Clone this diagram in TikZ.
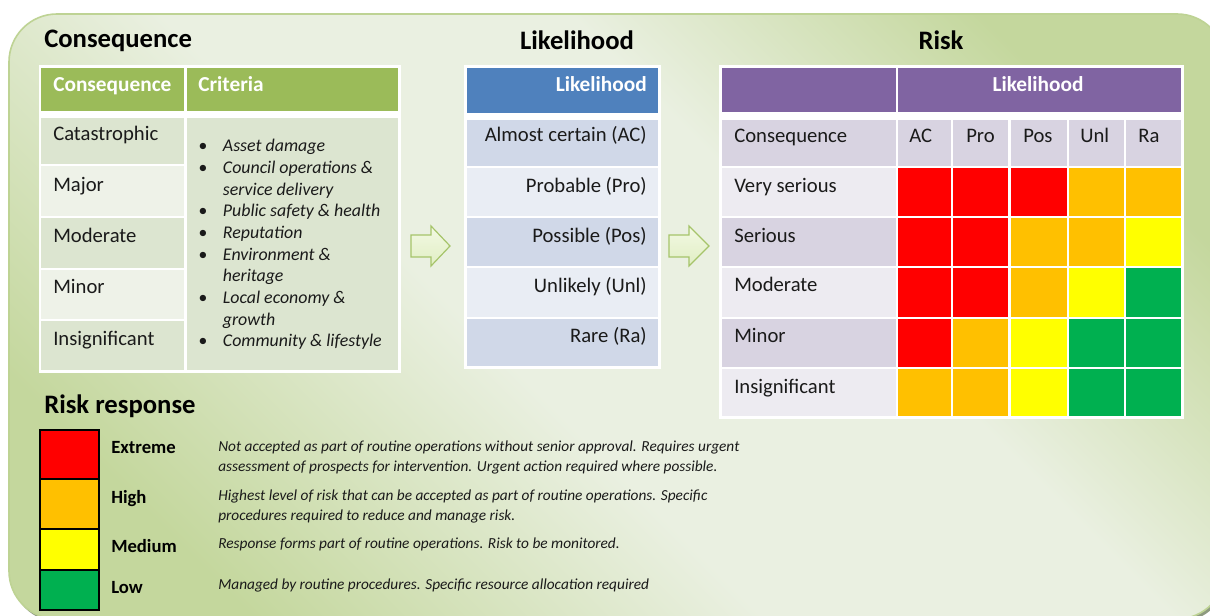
\documentclass[tikz,border=0pt]{standalone}
\usepackage{fontspec}
\setmainfont{Carlito}
\usetikzlibrary{shapes.arrows}

% panel and table colours
\definecolor{bgdark}{HTML}{C4D79D}
\definecolor{bglight}{HTML}{EAF0E1}
\definecolor{bgedge}{HTML}{BED394}
\definecolor{bgshadow}{HTML}{8E9A80}
\definecolor{cgreen}{HTML}{9BBB59}
\definecolor{cgdark}{HTML}{DCE5D0}
\definecolor{cglight}{HTML}{EEF2E8}
\definecolor{lblue}{HTML}{4F81BD}
\definecolor{lbdark}{HTML}{D0D8E8}
\definecolor{lblight}{HTML}{E9EDF4}
\definecolor{rpurple}{HTML}{8064A2}
\definecolor{rpdark}{HTML}{D8D3E1}
\definecolor{rplight}{HTML}{EDEBF1}
\definecolor{rred}{HTML}{FF0000}
\definecolor{rorange}{HTML}{FFC000}
\definecolor{ryellow}{HTML}{FFFF00}
\definecolor{rgreen}{HTML}{00B050}
\definecolor{arrowedge}{HTML}{A6C46A}
\definecolor{arrowtop}{HTML}{F3F9E4}
\definecolor{arrowbot}{HTML}{E0EEC3}
\definecolor{ink}{HTML}{1A1A1A}

\pgfdeclareverticalshading{panelshade}{100bp}{%
  color(0bp)=(bgdark); color(24bp)=(bgdark); color(44bp)=(bglight);
  color(60bp)=(bglight); color(76bp)=(bgdark); color(100bp)=(bgdark)}

\tikzset{
  txt/.style={inner sep=0pt, text=ink},
  title/.style={txt, font=\bfseries\fontsize{20}{24}\selectfont, text=black},
  hdr/.style={inner sep=0pt, text=white, font=\bfseries\fontsize{16}{19}\selectfont},
  body/.style={txt, font=\fontsize{15.5}{18}\selectfont},
  crit/.style={txt, font=\itshape\fontsize{13.4}{16.25}\selectfont},
  level/.style={txt, font=\bfseries\fontsize{14}{17}\selectfont, text=black},
  desc/.style={txt, font=\itshape\fontsize{11.5}{15}\selectfont},
  swatch/.style={draw=black, line width=1.5pt},
  blockarrow/.style={draw=arrowedge, line width=0.9pt, top color=arrowtop, bottom color=arrowbot, line join=miter}
}

\begin{document}
\begin{tikzpicture}[x=0.75pt, y=-0.75pt]
\useasboundingbox (0,0) rectangle (1210,616);
\fill[white] (0,0) rectangle (1210,616);

% rounded panel with its soft shadow
\fill[bgshadow, rounded corners=36pt] (11,17) rectangle (1227,622);
\path[shading=panelshade, shading angle=-45, rounded corners=36pt]
  (9,14) rectangle (1225,619);
\draw[bgedge, line width=1.2pt, rounded corners=36pt] (9,14) rectangle (1225,619);

% ---------- titles ----------
\node[title, anchor=base west] (tcons) at (44,48) {Consequence};
\node[title, anchor=base] (tlik) at (577,50) {Likelihood};
\node[title, anchor=base] (trisk) at (941,50) {Risk};
\node[title, anchor=base west] (tresp) at (44,413) {Risk response};

% ---------- consequence table ----------
\fill[white] (39,65) rectangle (401,373);
\fill[cgreen] (41,68) rectangle (184,111);
\fill[cgreen] (187,68) rectangle (398,111);
\fill[cgdark]  (41,118) rectangle (184,164);
\fill[cglight] (41,166) rectangle (184,216);
\fill[cgdark]  (41,218) rectangle (184,268);
\fill[cglight] (41,270) rectangle (184,319);
\fill[cgdark]  (41,321) rectangle (184,370);
\fill[cgdark]  (187,118) rectangle (398,370);

\node[hdr, anchor=base west] (hcons) at (53,92) {Consequence};
\node[hdr, anchor=base west] (hcrit) at (198,92) {Criteria};
\node[body, anchor=base west] (c1) at (53,141) {Catastrophic};
\node[body, anchor=base west] (c2) at (53,192) {Major};
\node[body, anchor=base west] (c3) at (53,243) {Moderate};
\node[body, anchor=base west] (c4) at (53,294) {Minor};
\node[body, anchor=base west] (c5) at (53,346) {Insignificant};
\node[crit, anchor=base west] (crit) at (198,152) {%
  \begin{tabular}[t]{@{}p{18.5pt}@{}l@{}}
  \textbullet & Asset damage\\
  \textbullet & Council operations \&\\
              & service delivery\\
  \textbullet & Public safety \& health\\
  \textbullet & Reputation\\
  \textbullet & Environment \&\\
              & heritage\\
  \textbullet & Local economy \&\\
              & growth\\
  \textbullet & Community \& lifestyle
  \end{tabular}};

% ---------- block arrows ----------
\path[blockarrow] (411,235) -- (431,235) -- (431,226) -- (450,246)
  -- (431,266) -- (431,257) -- (411,257) -- cycle;
\path[blockarrow] (669,235) -- (689,235) -- (689,226) -- (709,246)
  -- (689,266) -- (689,257) -- (669,257) -- cycle;

% ---------- likelihood table ----------
\fill[white] (464,65) rectangle (661,369);
\fill[lblue]   (467,68) rectangle (658,113);
\fill[lbdark]  (467,120) rectangle (658,166);
\fill[lblight] (467,168) rectangle (658,216);
\fill[lbdark]  (467,218) rectangle (658,266);
\fill[lblight] (467,268) rectangle (658,317);
\fill[lbdark]  (467,319) rectangle (658,366);

\node[hdr, anchor=base east] (hlik) at (647,92) {Likelihood};
\node[body, anchor=base east] (l1) at (647,142) {Almost certain (AC)};
\node[body, anchor=base east] (l2) at (647,193) {Probable (Pro)};
\node[body, anchor=base east] (l3) at (647,243) {Possible (Pos)};
\node[body, anchor=base east] (l4) at (647,293) {Unlikely (Unl)};
\node[body, anchor=base east] (l5) at (647,343) {Rare (Ra)};

% ---------- risk matrix ----------
\fill[white] (719,65) rectangle (1184,419);
\fill[rpurple] (722,68) rectangle (896,112);
\fill[rpurple] (898,68) rectangle (1181,112);
\fill[rpdark]  (722,120) rectangle (896,166);
\fill[rplight] (722,168) rectangle (896,216);
\fill[rpdark]  (722,218) rectangle (896,266);
\fill[rplight] (722,268) rectangle (896,317);
\fill[rpdark]  (722,319) rectangle (896,367);
\fill[rplight] (722,369) rectangle (896,416);
\foreach \xa/\xb in {898/951, 953/1008, 1011/1067, 1069/1124, 1126/1181}
  \fill[rpdark] (\xa,120) rectangle (\xb,166);
\foreach \yt/\yb/\ca/\cb/\cc/\cd/\ce in {
    168/216/rred/rred/rred/rorange/rorange,
    218/266/rred/rred/rorange/rorange/ryellow,
    268/317/rred/rred/rorange/ryellow/rgreen,
    319/367/rred/rorange/ryellow/rgreen/rgreen,
    369/416/rorange/rorange/ryellow/rgreen/rgreen}{
  \fill[\ca] (898,\yt) rectangle (951,\yb);
  \fill[\cb] (953,\yt) rectangle (1008,\yb);
  \fill[\cc] (1011,\yt) rectangle (1067,\yb);
  \fill[\cd] (1069,\yt) rectangle (1124,\yb);
  \fill[\ce] (1126,\yt) rectangle (1181,\yb);
}

\node[hdr, anchor=base] (hrisk) at (1038,92) {Likelihood};
\node[body, anchor=base west] (r0) at (734,143) {Consequence};
\node[body, anchor=base west] (r1) at (734,193) {Very serious};
\node[body, anchor=base west] (r2) at (734,243) {Serious};
\node[body, anchor=base west] (r3) at (734,292) {Moderate};
\node[body, anchor=base west] (r4) at (734,343) {Minor};
\node[body, anchor=base west] (r5) at (734,393) {Insignificant};
\node[body, anchor=base west] (kac)  at (909,143) {AC};
\node[body, anchor=base west] (kpro) at (966,143) {Pro};
\node[body, anchor=base west] (kpos) at (1023,143) {Pos};
\node[body, anchor=base west] (kunl) at (1080,143) {Unl};
\node[body, anchor=base west] (kra)  at (1138,143) {Ra};

% ---------- risk response legend ----------
\path[swatch, fill=rred]    (40,430) rectangle (99,479);
\path[swatch, fill=rorange] (40,479) rectangle (99,529);
\path[swatch, fill=ryellow] (40,529) rectangle (99,570);
\path[swatch, fill=rgreen]  (40,570) rectangle (99,610);

\node[level, anchor=base west] (vext) at (111,454) {Extreme};
\node[level, anchor=base west] (vhigh) at (111,503) {High};
\node[level, anchor=base west] (vmed) at (111,552) {Medium};
\node[level, anchor=base west] (vlow) at (111,593) {Low};

\node[desc, anchor=base west] (dext) at (218,451) {%
  \begin{tabular}[t]{@{}l@{}}
  Not accepted as part of routine operations without senior approval. Requires urgent\\
  assessment of prospects for intervention. Urgent action required where possible.
  \end{tabular}};
\node[desc, anchor=base west] (dhigh) at (218,500) {%
  \begin{tabular}[t]{@{}l@{}}
  Highest level of risk that can be accepted as part of routine operations. Specific\\
  procedures required to reduce and manage risk.
  \end{tabular}};
\node[desc, anchor=base west] (dmed) at (218,548) {Response forms part of routine operations. Risk to be monitored.};
\node[desc, anchor=base west] (dlow) at (218,589) {Managed by routine procedures. Specific resource allocation required};
\end{tikzpicture}
\end{document}
